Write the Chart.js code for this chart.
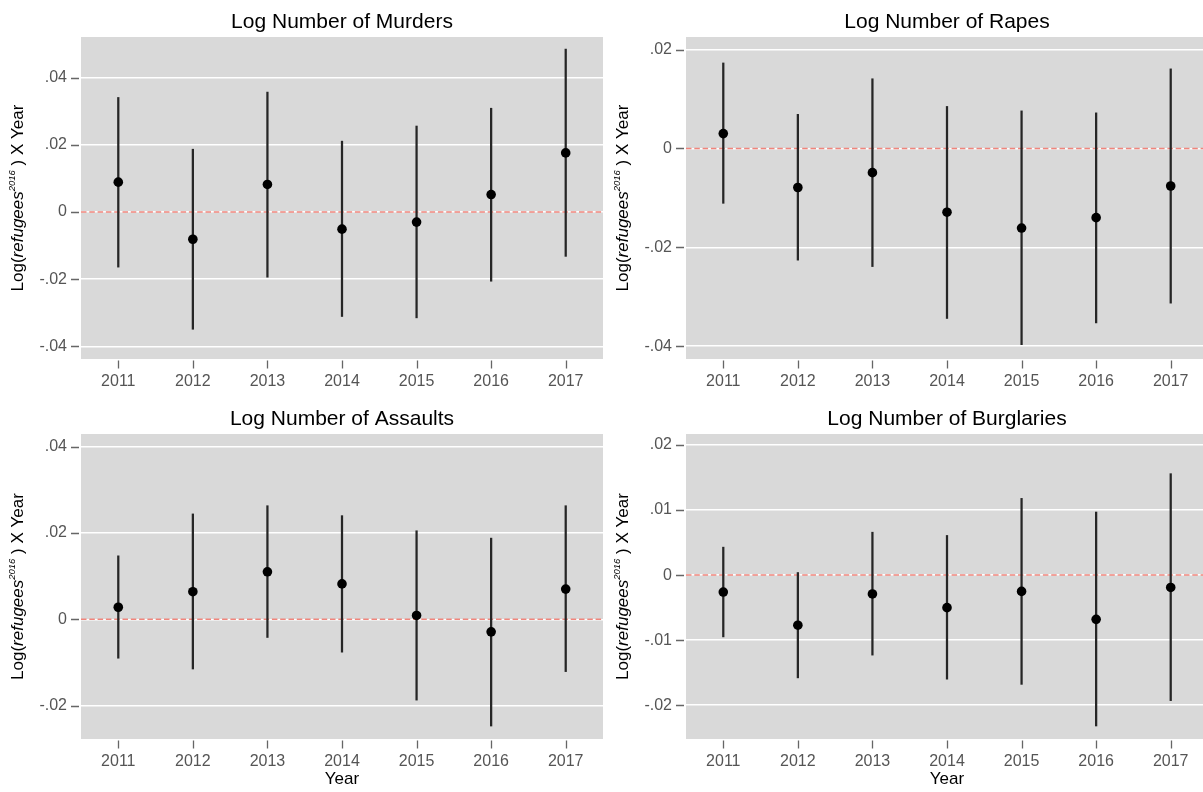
<!DOCTYPE html>
<html>
<head>
<meta charset="utf-8">
<script src="https://cdn.jsdelivr.net/npm/chart.js@4"></script>
<style>
  html, body { margin: 0; padding: 0; background: #ffffff; }
  body { width: 1203px; height: 792px; overflow: hidden; position: relative; }
  canvas { position: absolute; }
</style>
</head>
<body>
<canvas id="c1"></canvas>
<canvas id="c2"></canvas>
<canvas id="c3"></canvas>
<canvas id="c4"></canvas>
<script>
// ---------------- DATA ----------------
const years = ['2011', '2012', '2013', '2014', '2015', '2016', '2017'];

const murdersEst = [0.0089, -0.0081, 0.0082, -0.0051, -0.0030, 0.0052, 0.0176];
const murdersLo  = [-0.0164, -0.0349, -0.0194, -0.0311, -0.0315, -0.0206, -0.0132];
const murdersHi  = [0.0341, 0.0187, 0.0357, 0.0211, 0.0256, 0.0309, 0.0485];

const rapesEst = [0.0030, -0.0079, -0.0049, -0.0129, -0.0161, -0.0140, -0.0076];
const rapesLo  = [-0.0111, -0.0226, -0.0239, -0.0344, -0.0397, -0.0353, -0.0313];
const rapesHi  = [0.0173, 0.0069, 0.0141, 0.0085, 0.0076, 0.0072, 0.0161];

const assaultsEst = [0.0028, 0.0064, 0.0110, 0.0082, 0.0009, -0.0029, 0.0070];
const assaultsLo  = [-0.0090, -0.0115, -0.0042, -0.0076, -0.0187, -0.0247, -0.0121];
const assaultsHi  = [0.0147, 0.0244, 0.0263, 0.0240, 0.0205, 0.0188, 0.0263];

const burglariesEst = [-0.0026, -0.0077, -0.0029, -0.0050, -0.0025, -0.0068, -0.0019];
const burglariesLo  = [-0.0095, -0.0158, -0.0123, -0.0160, -0.0168, -0.0232, -0.0193];
const burglariesHi  = [0.0043, 0.0004, 0.0066, 0.0061, 0.0118, 0.0097, 0.0156];

const murdersTicks = [-0.04, -0.02, 0, 0.02, 0.04];
const murdersTickLabels = ['-.04', '-.02', '0', '.02', '.04'];
const rapesTicks = [-0.04, -0.02, 0, 0.02];
const rapesTickLabels = ['-.04', '-.02', '0', '.02'];
const assaultsTicks = [-0.02, 0, 0.02, 0.04];
const assaultsTickLabels = ['-.02', '0', '.02', '.04'];
const burglariesTicks = [-0.02, -0.01, 0, 0.01, 0.02];
const burglariesTickLabels = ['-.02', '-.01', '0', '.01', '.02'];

const murdersRange = [-0.04375, 0.0521];
const rapesRange = [-0.0426, 0.02255];
const assaultsRange = [-0.0277, 0.0429];
const burglariesRange = [-0.0252, 0.0217];

const titles = ['Log Number of Murders', 'Log Number of Rapes', 'Log Number of Assaults', 'Log Number of Burglaries'];
const xAxisTitle = 'Year';
const yTitleParts = ['Log(', 'refugees', '2016', ' ) X Year'];

// ---------------- STYLE / LAYOUT ----------------
const FONT = '"Liberation Sans", Arial, Helvetica, sans-serif';
const PLOT_BG = '#d9d9d9';
const TICK_COLOR = '#666666';
const LABEL_COLOR = '#555555';

const decoPlugin = {
  id: 'deco',
  beforeDraw(chart) {
    const { ctx, chartArea: a } = chart;
    ctx.save();
    ctx.fillStyle = PLOT_BG;
    ctx.fillRect(a.left, a.top, a.right - a.left, a.bottom - a.top);
    ctx.restore();
  },
  beforeDatasetsDraw(chart) {
    const { ctx, chartArea: a } = chart;
    const y = chart.scales.y.getPixelForValue(0);
    ctx.save();
    ctx.strokeStyle = '#f0857c';
    ctx.lineWidth = 1.5;
    ctx.setLineDash([5.5, 2.8]);
    ctx.beginPath();
    ctx.moveTo(a.left, y);
    ctx.lineTo(a.right, y);
    ctx.stroke();
    ctx.restore();
  },
  afterDraw(chart, args, opts) {
    const { ctx, chartArea: a } = chart;
    const ys = chart.scales.y, xs = chart.scales.x;
    ctx.save();
    // tick marks
    ctx.strokeStyle = TICK_COLOR;
    ctx.lineWidth = 1.3;
    ctx.beginPath();
    ys.ticks.forEach(t => {
      const py = Math.round(ys.getPixelForValue(t.value)) + 0.5;
      ctx.moveTo(a.left - 10, py);
      ctx.lineTo(a.left - 2, py);
    });
    xs.ticks.forEach((t, i) => {
      const px = Math.round(xs.getPixelForTick(i)) + 0.5;
      ctx.moveTo(px, a.bottom + 1.5);
      ctx.lineTo(px, a.bottom + 9.5);
    });
    ctx.stroke();

    // panel title
    ctx.fillStyle = '#000000';
    ctx.font = '21px ' + FONT;
    ctx.textAlign = 'center';
    ctx.textBaseline = 'middle';
    ctx.fillText(opts.title, (a.left + a.right) / 2, a.top - 15);

    // x-axis title
    if (opts.showX) {
      ctx.font = '17px ' + FONT;
      ctx.fillText(xAxisTitle, (a.left + a.right) / 2, a.bottom + 40);
    }

    // y-axis title (rich text, rotated)
    const segs = [
      { t: yTitleParts[0], f: '17px ' + FONT, dy: 0 },
      { t: yTitleParts[1], f: 'italic 17px ' + FONT, dy: 0 },
      { t: yTitleParts[2], f: 'italic 9.5px ' + FONT, dy: -6 },
      { t: yTitleParts[3], f: '17px ' + FONT, dy: 0 }
    ];
    let total = 0;
    segs.forEach(s => { ctx.font = s.f; s.w = ctx.measureText(s.t).width; total += s.w; });
    ctx.translate(a.left - 62.5, (a.top + a.bottom) / 2);
    ctx.rotate(-Math.PI / 2);
    ctx.textAlign = 'left';
    ctx.textBaseline = 'middle';
    let x = -total / 2;
    segs.forEach(s => {
      ctx.font = s.f;
      ctx.fillText(s.t, x, s.dy);
      x += s.w;
    });
    ctx.restore();
  }
};

function makePanel(id, left, top, width, height, padTop, xAxisHeight, est, lo, hi, range, ticks, tickLabels, title, showX) {
  const canvas = document.getElementById(id);
  canvas.width = width;
  canvas.height = height;
  canvas.style.left = left + 'px';
  canvas.style.top = top + 'px';
  canvas.style.width = width + 'px';
  canvas.style.height = height + 'px';
  return new Chart(canvas, {
    data: {
      labels: years,
      datasets: [
        {
          type: 'line',
          data: est,
          showLine: false,
          pointRadius: 4.8,
          pointHoverRadius: 4.8,
          pointBackgroundColor: '#000000',
          pointBorderWidth: 0,
          order: 0
        },
        {
          type: 'bar',
          data: years.map((_, i) => [lo[i], hi[i]]),
          backgroundColor: '#262626',
          borderWidth: 0,
          barThickness: 1.6,
          order: 1
        }
      ]
    },
    options: {
      responsive: false,
      animation: false,
      devicePixelRatio: window.devicePixelRatio || 1,
      layout: { padding: { top: padTop, left: 0, right: 7, bottom: 0 } },
      plugins: {
        legend: { display: false },
        tooltip: { enabled: false },
        title: { display: false },
        deco: { title: title, showX: showX }
      },
      scales: {
        x: {
          type: 'category',
          offset: true,
          grid: { display: false, drawTicks: false },
          border: { display: false },
          ticks: { color: LABEL_COLOR, font: { family: FONT, size: 16 }, padding: 13, maxRotation: 0 },
          afterFit: s => { s.height = xAxisHeight; }
        },
        y: {
          type: 'linear',
          min: range[0],
          max: range[1],
          grid: { color: '#ffffff', lineWidth: 1.5, drawTicks: false },
          border: { display: false },
          ticks: {
            color: LABEL_COLOR,
            font: { family: FONT, size: 16 },
            padding: 14,
            callback: (v, i) => tickLabels[i]
          },
          afterBuildTicks: s => { s.ticks = ticks.map(v => ({ value: v })); },
          afterFit: s => { s.width = 81; }
        }
      }
    },
    plugins: [decoPlugin]
  });
}

makePanel('c1', 0, 0, 610, 396, 37, 37, murdersEst, murdersLo, murdersHi, murdersRange, murdersTicks, murdersTickLabels, titles[0], false);
makePanel('c2', 605, 0, 610, 396, 37, 37, rapesEst, rapesLo, rapesHi, rapesRange, rapesTicks, rapesTickLabels, titles[1], false);
makePanel('c3', 0, 397, 610, 395, 37, 53, assaultsEst, assaultsLo, assaultsHi, assaultsRange, assaultsTicks, assaultsTickLabels, titles[2], true);
makePanel('c4', 605, 397, 610, 395, 37, 53, burglariesEst, burglariesLo, burglariesHi, burglariesRange, burglariesTicks, burglariesTickLabels, titles[3], true);
</script>
</body>
</html>
